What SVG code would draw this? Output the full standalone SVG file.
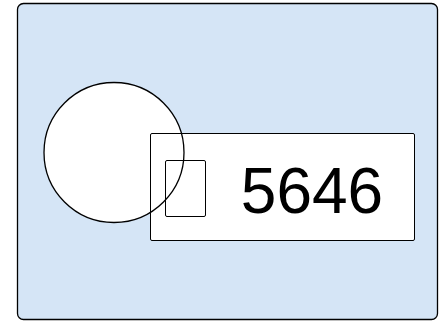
<svg xmlns="http://www.w3.org/2000/svg" width="439" height="321" viewBox="0 0 439 321">
  <style>
    .outer { fill: #d5e5f6; stroke: #000; stroke-width: 1.3; }
    .white { fill: #fff; stroke: #000; stroke-width: 1; }
    .ring { fill: none; stroke: #000; stroke-width: 1.3; }
    .label { font-family: "Liberation Sans", Arial, sans-serif; font-size: 64px; fill: #000; }
  </style>
  <defs>
    <circle id="circleShape" cx="114" cy="152.5" r="70"/>
  </defs>
  <g id="container">
    <rect class="outer" x="17.5" y="3.5" width="420" height="316" rx="6" ry="6"/>
  </g>
  <g id="circle-fill">
    <use href="#circleShape" fill="#fff"/>
  </g>
  <g id="label-box">
    <rect class="white" x="150.5" y="133.5" width="264" height="107" rx="1.5" ry="1.5"/>
    <text class="label" x="312" y="212.5" text-anchor="middle">5646</text>
  </g>
  <g id="small-box">
    <rect class="white" x="165.5" y="160.5" width="40" height="56" rx="1.5" ry="1.5"/>
  </g>
  <g id="circle">
    <use href="#circleShape" class="ring"/>
  </g>
  <g id="connectors"></g>
</svg>
